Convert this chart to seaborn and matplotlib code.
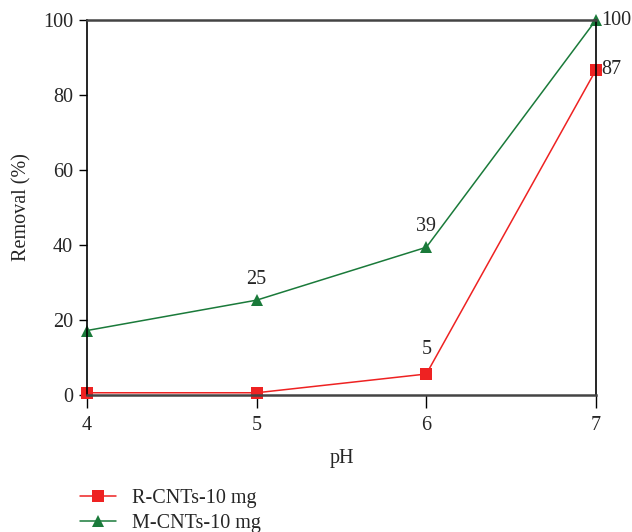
import pandas as pd
import matplotlib.pyplot as plt
import seaborn as sns

ph = [4, 5, 6, 7]
r_cnts = [0.6, 0.6, 5.6, 86.7]
m_cnts = [17.2, 25.3, 39.4, 100]
r_labels = {6: "5", 7: "87"}
m_labels = {5: "25", 6: "39", 7: "100"}

df = pd.DataFrame({
    "pH": ph * 2,
    "Removal": r_cnts + m_cnts,
    "Sample": ["R-CNTs-10 mg"] * 4 + ["M-CNTs-10 mg"] * 4,
})

sns.set_style("ticks")
plt.rcParams["font.family"] = ["Liberation Serif", "DejaVu Serif"]
fs = 14.5

fig = plt.figure(figsize=(6.32, 5.32), dpi=100)
ax = fig.add_axes([0.1377, 0.2575, 0.8053, 0.7049])

sns.lineplot(data=df, x="pH", y="Removal", hue="Sample", style="Sample",
             palette=["#ee2222", "#1a7a3a"], markers=["s", "^"], dashes=False,
             markersize=9, markeredgewidth=0, linewidth=1.1, ax=ax, clip_on=False)

for x, t in r_labels.items():
    y = r_cnts[ph.index(x)]
    if x == 7:
        ax.text(x + 0.03, y, t, fontsize=fs, va="center", ha="left")
    else:
        ax.text(x, y + 4, t, fontsize=fs, va="bottom", ha="center")
for x, t in m_labels.items():
    y = m_cnts[ph.index(x)]
    if x == 7:
        ax.text(x + 0.03, y, t, fontsize=fs, va="center", ha="left")
    else:
        ax.text(x, y + 3, t, fontsize=fs, va="bottom", ha="center")

ax.set_xlim(4, 7)
ax.set_ylim(0, 100)
ax.set_xticks(ph)
ax.set_yticks([0, 20, 40, 60, 80, 100])
ax.tick_params(labelsize=fs, width=1, color="black")
ax.tick_params(axis="x", length=9, pad=6)
ax.tick_params(axis="y", length=6, pad=4)
ax.set_xlabel("pH", fontsize=fs, labelpad=10)
ax.set_ylabel("Removal (%)", fontsize=fs, labelpad=8)
for s in ["left", "right"]:
    ax.spines[s].set_color("black")
    ax.spines[s].set_linewidth(1.2)
for s in ["top", "bottom"]:
    ax.spines[s].set_color("#444444")
    ax.spines[s].set_linewidth(1.8)

ax.legend(loc="upper left", bbox_to_anchor=(-0.013, -0.25), frameon=False,
          fontsize=fs, handlelength=1.75, handletextpad=0.8, labelspacing=0.3,
          borderaxespad=0, borderpad=0)

plt.savefig("out.png", dpi=100)
